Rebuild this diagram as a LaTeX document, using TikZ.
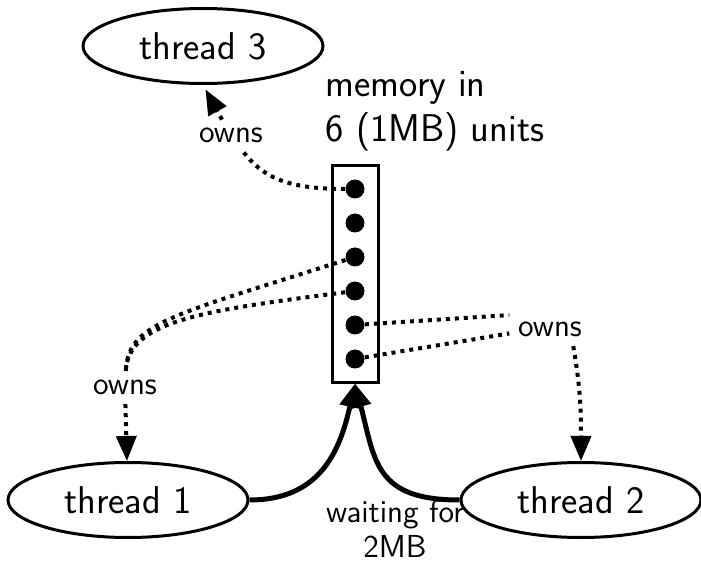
\documentclass[tikz,border=0pt]{standalone}
\usepackage{tikz}
\usetikzlibrary{positioning,shapes.geometric,arrows.meta}

\tikzset{
  bigtext/.style={font=\sffamily\fontsize{15.5}{18}\selectfont},
  threadnode/.style={draw, ellipse, line width=1.2pt, minimum width=96pt, minimum height=30pt, inner sep=0pt, bigtext},
  memdot/.style={circle, fill=black, inner sep=0pt, minimum size=7.6pt},
  ownslbl/.style={font=\sffamily\fontsize{12.7}{14}\selectfont},
  ownsline/.style={dotted, line width=1.6pt},
  ownsarrow/.style={ownsline, -{Triangle[length=10pt,width=8pt]}},
  waitarrow/.style={line width=2pt, -{Triangle[length=9.5pt,width=8pt]}},
}

\begin{document}
\begin{tikzpicture}[x=0.4pt,y=0.4pt]
\useasboundingbox (0,0) rectangle (701,561);

%Shape: Ellipse
\node[threadnode] (thread3) at (203,515) {thread 3};
\node[threadnode] (thread1) at (128,61) {thread 1};
\node[threadnode] (thread2) at (581,61) {thread 2};

%Shape: Rectangle
\node[draw, line width=1.2pt, minimum width=18.4pt, minimum height=86.4pt, inner sep=0pt] (mem) at (355,287) {};
\foreach \i in {1,...,6}
  \node[memdot] (d\i) at (355,{406-34*\i}) {};

% Text Node
\node[bigtext, align=left, anchor=base west] (memlbl) at (317,419) {memory in\\6 (1MB) units};
% Text Node
\node[ownslbl, anchor=base] (ownsC) at (231,418) {owns};
% Text Node
\node[ownslbl, anchor=base] (ownsA) at (125,166) {owns};
% Text Node
\node[ownslbl, anchor=base] (ownsB) at (550,224) {owns};
% Text Node
\node[ownslbl, align=center, anchor=base] (waitlbl) at (395,4) {waiting for\\2MB};

%Straight Lines
\draw[ownsline] (d1) .. controls (285,372) and (262,385) .. (ownsC);
\draw[ownsarrow, shorten >=2pt] (ownsC) -- (thread3.south);

\draw[ownsline] (d3) .. controls (170,245) and (128,238) .. (ownsA);
\draw[ownsline] (d4) .. controls (200,250) and (128,240) .. (ownsA);
\draw[ownsarrow] (ownsA) -- (thread1);

\draw[ownsline] (d5) -- (ownsB.160);
\draw[ownsline] (d6) -- (ownsB.185);
\draw[ownsarrow] (ownsB.-35) to[out=-80,in=90] (thread2.north);

\draw[waitarrow] (thread1.east) .. controls (320,61) and (340,110) .. (mem.south);
\draw[waitarrow] (thread2.west) .. controls (375,61) and (375,100) .. (mem.south);

\end{tikzpicture}
\end{document}
